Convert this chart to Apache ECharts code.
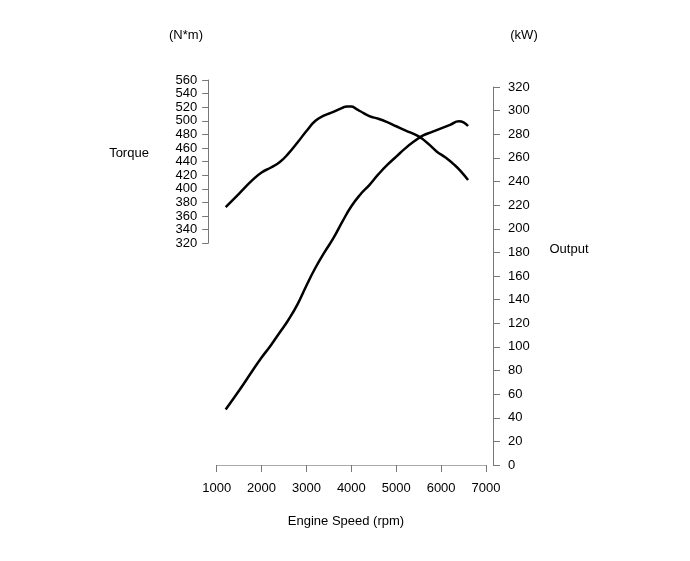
<!DOCTYPE html>
<html>
<head>
<meta charset="utf-8">
<script src="https://cdn.jsdelivr.net/npm/echarts@6/dist/echarts.min.js"></script>
<style>html,body{margin:0;padding:0;background:#fff;}#c{width:690px;height:561px;}</style>
</head>
<body>
<div id="c"></div>
<script>
var torqueRpm = [1200,1500,1800,2000,2200,2400,2600,2800,3000,3200,3400,3600,3800,3900,4000,4100,4200,4400,4600,4800,5000,5200,5500,5700,5900,6100,6300,6450,6600];
var torqueNm  = [373,393,413,424,431,439,452,468,485,500,508,513,519,521,521,518,514,507,503,498,492,486,477,467,455,446,435,425,413];
var powerRpm = [1200,1500,1800,2000,2200,2400,2600,2800,3000,3200,3400,3600,3800,4000,4200,4400,4600,4800,5000,5200,5400,5600,5800,6000,6200,6400,6500,6600];
var powerKw  = [47,63,80,91,101,112,123,136,152,167,180,192,206,219,229,237,246,254,261,268,274,279,282,285,288,291,290,287];

var torqueAxis = {min:320, max:560, interval:20};
var powerAxis = {min:0, max:320, interval:20};
var speedAxis = {min:1000, max:7000, interval:1000};

var FONT = '"Liberation Sans", Arial, sans-serif';
function pairs(xs, ys){ return xs.map(function(x,i){ return [x, ys[i]]; }); }

var chart = echarts.init(document.getElementById('c'), null, {renderer:'canvas'});
chart.setOption({
  animation:false,
  backgroundColor:'#fff',
  grid:[
    {left:216.7, width:269.3, top:80, height:163.2, containLabel:false},
    {left:216.7, width:269.3, top:87, height:378, containLabel:false}
  ],
  xAxis:[
    {type:'value', gridIndex:0, min:speedAxis.min, max:speedAxis.max, interval:speedAxis.interval, show:false},
    {type:'value', gridIndex:1, min:speedAxis.min, max:speedAxis.max, interval:speedAxis.interval,
     position:'bottom', offset:5,
     axisLine:{show:true, lineStyle:{color:'#aaa', width:1}},
     axisTick:{show:true, length:7, lineStyle:{color:'#777'}},
     axisLabel:{color:'#000', fontSize:13, fontFamily:FONT, margin:12, formatter:function(v){return String(v);}},
     splitLine:{show:false}}
  ],
  yAxis:[
    {type:'value', gridIndex:0, min:torqueAxis.min, max:torqueAxis.max, interval:torqueAxis.interval,
     position:'left', offset:8.5,
     axisLine:{show:true, lineStyle:{color:'#777', width:1}},
     axisTick:{show:true, length:6, lineStyle:{color:'#777'}},
     axisLabel:{color:'#000', fontSize:13, fontFamily:FONT, margin:11},
     splitLine:{show:false}},
    {type:'value', gridIndex:1, min:powerAxis.min, max:powerAxis.max, interval:powerAxis.interval,
     position:'right', offset:7,
     axisLine:{show:true, lineStyle:{color:'#777', width:1}},
     axisTick:{show:true, length:7, lineStyle:{color:'#777'}},
     axisLabel:{color:'#000', fontSize:13, fontFamily:FONT, margin:15},
     splitLine:{show:false}}
  ],
  series:[
    {name:'Torque', type:'line', xAxisIndex:0, yAxisIndex:0, data:pairs(torqueRpm, torqueNm),
     smooth:0.5, showSymbol:false, lineStyle:{color:'#000', width:2.5}, clip:false},
    {name:'Output', type:'line', xAxisIndex:1, yAxisIndex:1, data:pairs(powerRpm, powerKw),
     smooth:0.5, showSymbol:false, lineStyle:{color:'#000', width:2.5}, clip:false}
  ],
  graphic:[
    {type:'text', x:186, y:35, style:{text:'(N*m)', fill:'#000', font:'13px '+FONT, textAlign:'center', textVerticalAlign:'middle'}},
    {type:'text', x:524, y:35, style:{text:'(kW)', fill:'#000', font:'13px '+FONT, textAlign:'center', textVerticalAlign:'middle'}},
    {type:'text', x:129, y:153, style:{text:'Torque', fill:'#000', font:'13px '+FONT, textAlign:'center', textVerticalAlign:'middle'}},
    {type:'text', x:569, y:249, style:{text:'Output', fill:'#000', font:'13px '+FONT, textAlign:'center', textVerticalAlign:'middle'}},
    {type:'text', x:346, y:521, style:{text:'Engine Speed (rpm)', fill:'#000', font:'13px '+FONT, textAlign:'center', textVerticalAlign:'middle'}}
  ]
});
</script>
</body>
</html>
